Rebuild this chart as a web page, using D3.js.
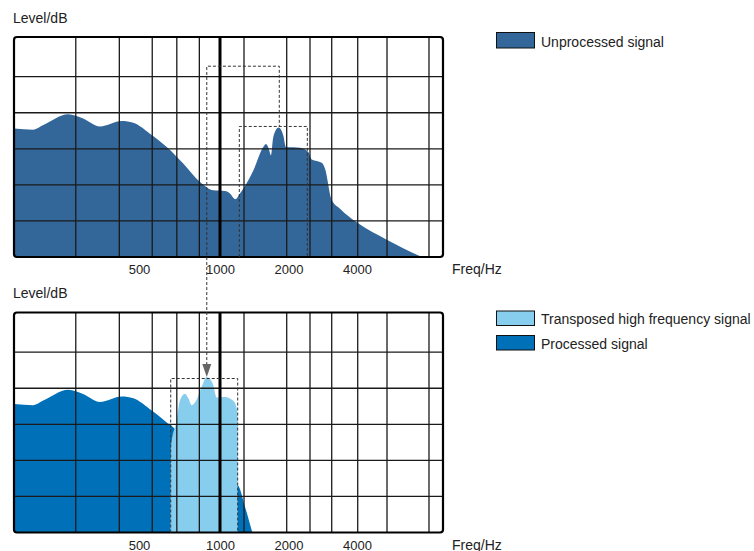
<!DOCTYPE html>
<html><head><meta charset="utf-8">
<script src="https://cdn.jsdelivr.net/npm/d3@7"></script>
<style>
body{margin:0;background:#fff;}
text{font-family:"Liberation Sans",Arial,sans-serif;font-size:14px;fill:#222;}
</style>
</head><body><svg id="c" width="754" height="551"></svg>
<script>
// ---- data ----
const unprocFreq  = [125,155,172,228,269,324,413,469,549,634,730,843,944,1052,1106,1168,1224,1401,1550,1593,1637,1676,1715,1811,1897,1950,2247,2444,2529,2799,2894,3097,3368,4030,5405,7700];
const unprocLevel = [35.6,35.3,36.5,39.6,38.4,36.2,37.7,37.2,34.2,30.5,25.9,20.8,18.5,18.3,17.6,16.0,17.6,24.0,30.5,31.3,30.1,28.2,33.3,35.9,33.7,30.5,30.3,29.1,27.0,26.1,24.5,15.9,13.4,9.4,4.8,0];
const procFreq    = [125,155,172,228,269,324,413,469,549,634,690,720,800,1000,1196,1288,1387];
const procLevel   = [35.6,35.3,36.5,39.6,38.4,36.2,37.7,37.2,34.2,30.5,27.9,22,16,14,13.1,7.1,0];
const transFreq   = [654,657,690,710,741,763,785,819,855,893,940,972,1052,1144,1184,1196,1198];
const transLevel  = [0,23.7,31.1,36.7,38.5,37.2,35.3,36.9,40.4,43.1,41.3,37.4,37.6,36.5,34.4,31.1,0];
const gridFreqs   = [248,402,560,691,838,1275,1964,2486,3097,4029,5419,8288];
const refFreq     = 1000;
const gridLevels  = [10,20,30,40,50];
const tickFreqs   = [500,1000,2000,4000];
const tickLabels  = ["500","1000","2000","4000"];
// dashed boxes [fLow, fHigh, levelTop]
const srcBand     = [1216, 2420, 36.2];
const shiftBox    = [893, 1822, 52.9];
const dstBand     = [656, 1196, 42.7];
const legendTop   = ["Unprocessed signal"];
const legendBottom= ["Transposed high frequency signal","Processed signal"];

const colUnproc = "#336699", colProc = "#0070b8", colTrans = "#87ceee";

const svg = d3.select("#c");
const left = 14, W = 429, H = 220;
const x = d3.scaleLog().domain([125, 500, 1000, 9550]).range([0, 125, 206, W]);
const y = d3.scaleLinear().domain([0, 61]).range([H, 0]);

const area = (fs, ls) => d3.area()
  .x((d,i)=>x(fs[i])).y0(y(0)).y1((d,i)=>y(ls[i]))
  .curve(d3.curveMonotoneX)(fs);

function chart(top, series) {
  const g = svg.append("g").attr("transform", `translate(${left},${top})`);
  const cp = "clip" + Math.round(top);
  g.append("clipPath").attr("id", cp).append("rect").attr("width", W).attr("height", H);
  const plot = g.append("g").attr("clip-path", `url(#${cp})`);
  series.forEach(s => plot.append("path").attr("d", area(s.f, s.l)).attr("fill", s.c));
  g.selectAll(".gy").data(gridLevels).join("line")
    .attr("x1",0).attr("x2",W).attr("y1",d=>y(d)).attr("y2",d=>y(d))
    .attr("stroke","#1a1a1a").attr("stroke-width",1.3);
  g.selectAll(".gx").data(gridFreqs).join("line")
    .attr("x1",d=>x(d)).attr("x2",d=>x(d)).attr("y1",0).attr("y2",H)
    .attr("stroke","#1a1a1a").attr("stroke-width",1.3);
  g.append("line").attr("x1",x(refFreq)).attr("x2",x(refFreq)).attr("y1",0).attr("y2",H)
    .attr("stroke","#000").attr("stroke-width",3);
  g.append("rect").attr("width",W).attr("height",H).attr("rx",3)
    .attr("fill","none").attr("stroke","#000").attr("stroke-width",2.2);
  const ax = g.append("g").attr("transform",`translate(0,${H})`)
    .call(d3.axisBottom(x).tickValues(tickFreqs).tickSize(0).tickPadding(0).tickFormat((d,i)=>tickLabels[i]));
  ax.select(".domain").remove();
  ax.attr("font-size",null).attr("font-family",null);
  ax.selectAll("text").attr("dy",null).attr("y",17).style("font-size","13px").style("fill","#222");
  svg.append("text").attr("x",13).attr("y",top-14.5).text("Level/dB");
  svg.append("text").attr("x",452).attr("y",top+H+17).text("Freq/Hz");
  return g;
}

const topY = 37, botY = 312.5;
const g1 = chart(topY, [{f:unprocFreq,l:unprocLevel,c:colUnproc}]);
const g2 = chart(botY, [{f:procFreq,l:procLevel,c:colProc},{f:transFreq,l:transLevel,c:colTrans}]);

const dash = sel => sel.attr("fill","none").attr("stroke","#333").attr("stroke-width",1).attr("stroke-dasharray","3,2");

g1.append("path").attr("d", d3.line()([[x(srcBand[0]),y(0)],[x(srcBand[0]),y(srcBand[2])],[x(srcBand[1]),y(srcBand[2])],[x(srcBand[1]),y(0)]])).call(dash);
g2.append("path").attr("d", d3.line()([[x(dstBand[0]),y(0)],[x(dstBand[0]),y(dstBand[2])],[x(dstBand[1]),y(dstBand[2])],[x(dstBand[1]),y(0)]])).call(dash);
const tipY = botY + y(d3.max(transLevel));
const ax0 = left + x(shiftBox[0]);
svg.append("path").attr("d", d3.line()([
  [ax0, tipY-12],
  [ax0, topY + y(shiftBox[2])],
  [left + x(shiftBox[1]), topY + y(shiftBox[2])],
  [left + x(shiftBox[1]), topY + y(srcBand[2])]
])).call(dash);
svg.append("path").attr("d", `M${ax0-4.5},${tipY-13}L${ax0+4.5},${tipY-13}L${ax0},${tipY}Z`).attr("fill","#666");

function legend(items, colors, x0, y0, h, step) {
  items.forEach((t,i)=>{
    svg.append("rect").attr("x",x0).attr("y",y0+i*step).attr("width",38).attr("height",h)
      .attr("fill",colors[i]).attr("stroke","#111").attr("stroke-width",1);
    svg.append("text").attr("x",x0+44.5).attr("y",y0+i*step+h-1.5).text(t);
  });
}
legend(legendTop, [colUnproc], 496.5, 32.5, 15.5, 0);
legend(legendBottom, [colTrans, colProc], 496.5, 311, 14.5, 24.5);
</script></body></html>
